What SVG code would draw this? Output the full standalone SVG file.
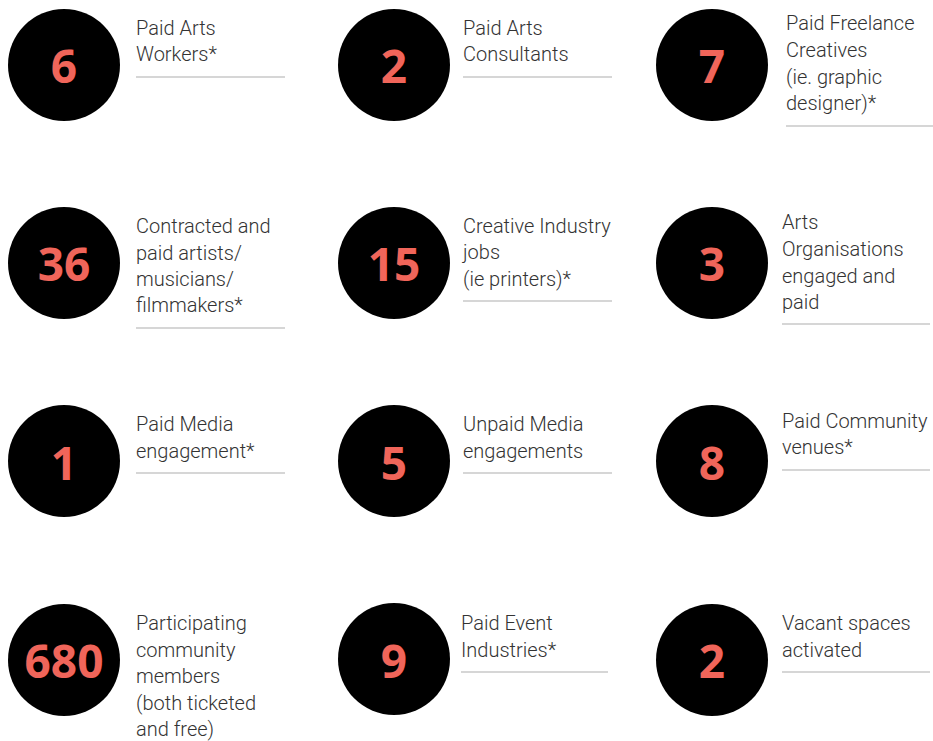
<svg xmlns="http://www.w3.org/2000/svg" width="933" height="741" viewBox="0 0 933 741">
<style>
.c{fill:#000}
.n{font-family:"Open Sans","Noto Sans",sans-serif;font-weight:700;font-size:46px;fill:#F0655A;text-anchor:middle}
.t{font-family:Roboto,"Liberation Sans",sans-serif;font-weight:300;font-size:20px;fill:#333}
.r{stroke:#c8c8c8;stroke-width:1.5}
</style>
<rect width="933" height="741" fill="#fff"/>
<g id="n1"><circle class="c" cx="64" cy="65" r="56"/><text class="n" x="64" y="83">6</text>
<text class="t" x="136"><tspan x="136" y="35">Paid Arts</tspan><tspan x="136" y="61">Workers*</tspan></text><line class="r" x1="136" y1="77" x2="285" y2="77"/></g>
<g id="n2"><circle class="c" cx="394" cy="65" r="56"/><text class="n" x="394" y="83">2</text>
<text class="t"><tspan x="463" y="35">Paid Arts</tspan><tspan x="463" y="61">Consultants</tspan></text><line class="r" x1="463" y1="77" x2="612" y2="77"/></g>
<g id="n3"><circle class="c" cx="712" cy="65" r="56"/><text class="n" x="712" y="83">7</text>
<text class="t"><tspan x="786" y="30">Paid Freelance</tspan><tspan x="786" y="57">Creatives</tspan><tspan x="786" y="84">(ie. graphic</tspan><tspan x="786" y="110">designer)*</tspan></text><line class="r" x1="786" y1="126" x2="933" y2="126"/></g>

<g id="n4"><circle class="c" cx="64" cy="263" r="56"/><text class="n" x="64" y="281">36</text>
<text class="t"><tspan x="136" y="233">Contracted and</tspan><tspan x="136" y="260">paid artists/</tspan><tspan x="136" y="286">musicians/</tspan><tspan x="136" y="312">filmmakers*</tspan></text><line class="r" x1="136" y1="328" x2="285" y2="328"/></g>
<g id="n5"><circle class="c" cx="394" cy="263" r="56"/><text class="n" x="394" y="281">15</text>
<text class="t"><tspan x="463" y="233">Creative Industry</tspan><tspan x="463" y="259">jobs</tspan><tspan x="463" y="286">(ie printers)*</tspan></text><line class="r" x1="463" y1="301" x2="612" y2="301"/></g>
<g id="n6"><circle class="c" cx="712" cy="263" r="56"/><text class="n" x="712" y="281">3</text>
<text class="t"><tspan x="782" y="229">Arts</tspan><tspan x="782" y="256">Organisations</tspan><tspan x="782" y="283">engaged and</tspan><tspan x="782" y="309">paid</tspan></text><line class="r" x1="782" y1="324" x2="930" y2="324"/></g>

<g id="n7"><circle class="c" cx="64" cy="461" r="56"/><text class="n" x="64" y="480">1</text>
<text class="t"><tspan x="136" y="431">Paid Media</tspan><tspan x="136" y="458">engagement*</tspan></text><line class="r" x1="136" y1="473" x2="285" y2="473"/></g>
<g id="n8"><circle class="c" cx="394" cy="461" r="56"/><text class="n" x="394" y="480">5</text>
<text class="t"><tspan x="463" y="431">Unpaid Media</tspan><tspan x="463" y="458">engagements</tspan></text><line class="r" x1="463" y1="473" x2="612" y2="473"/></g>
<g id="n9"><circle class="c" cx="712" cy="461" r="56"/><text class="n" x="712" y="480">8</text>
<text class="t"><tspan x="782" y="428">Paid Community</tspan><tspan x="782" y="454">venues*</tspan></text><line class="r" x1="782" y1="470" x2="930" y2="470"/></g>

<g id="n10"><circle class="c" cx="64" cy="660" r="56"/><text class="n" x="64" y="678">680</text>
<text class="t"><tspan x="136" y="630">Participating</tspan><tspan x="136" y="657">community</tspan><tspan x="136" y="683">members</tspan><tspan x="136" y="710">(both ticketed</tspan><tspan x="136" y="736">and free)</tspan></text></g>
<g id="n11"><circle class="c" cx="394" cy="659" r="56"/><text class="n" x="394" y="678">9</text>
<text class="t"><tspan x="461" y="630">Paid Event</tspan><tspan x="461" y="657">Industries*</tspan></text><line class="r" x1="461" y1="672" x2="608" y2="672"/></g>
<g id="n12"><circle class="c" cx="712" cy="660" r="56"/><text class="n" x="712" y="678">2</text>
<text class="t"><tspan x="782" y="630">Vacant spaces</tspan><tspan x="782" y="657">activated</tspan></text><line class="r" x1="782" y1="672" x2="930" y2="672"/></g>
<g id="connectors"/>
</svg>
